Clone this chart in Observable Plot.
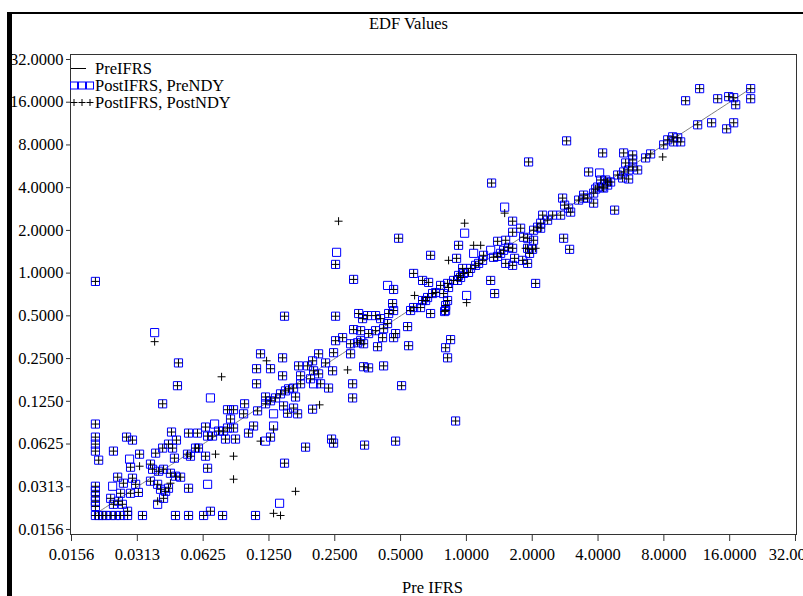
<!DOCTYPE html>
<html><head><meta charset="utf-8">
<script src="https://cdn.jsdelivr.net/npm/d3@7"></script>
<script src="https://cdn.jsdelivr.net/npm/@observablehq/plot@0.6"></script>
<style>
html,body{margin:0;padding:0;background:#fff;}
#wrap{position:relative;width:803px;height:596px;overflow:hidden;font-family:"Liberation Serif","DejaVu Serif","Times New Roman",serif;background:#fff;}
#chart{position:absolute;left:0;top:0;}
#legend{position:absolute;left:70px;top:60px;font-size:16.5px;color:#000;line-height:17px;}
#legend .row{display:flex;align-items:center;height:17px;white-space:nowrap;}
#legend svg{width:25px;height:17px;flex:none;}
</style></head><body>
<div id="wrap"><div id="chart"></div><div id="legend"></div></div>
<script>
// Tick values (log2 axes)
const tickValues = [0.015625,0.03125,0.0625,0.125,0.25,0.5,1,2,4,8,16,32];
const seriesNames = ["PreIFRS","PostIFRS, PreNDY","PostIFRS, PostNDY"];

// Pre IFRS EDF (x)
const preIFRS = [
.0408,.0967,.1206,.0201,.0201,.0201,.0201,.0208,.0279,.0297,
.0243,.0320,.0448,.0472,.0536,.0589,.0705,.0641,.0379,.0408,
.0434,.0453,.0462,.0530,.0547,.0577,.0595,.0641,.0655,.0690,
.0735,.0775,.0808,.0861,.0791,.0879,.1008,.1063,.0957,.1109,
.0834,.1144,.1206,.0861,.0861,.0712,.0655,.0288,.0291,.0320,
.0359,.0367,.0391,.0412,.0443,.0467,.0493,.0254,.0270,.0297,
.0241,.0307,.0316,.0291,.0262,.0236,.0256,.0243,.0267,.0359,
.0387,.0399,.0421,.0434,.0443,.0412,.0387,.0282,.0536,.0655,
.0201,.0201,.0201,.0201,.0201,.0201,.0208,.0217,.0224,.0236,
.0248,.0262,.0282,.0330,.0467,.0536,.0628,.0767,.1085,.0675,
.1312,.1271,.1838,.2469,.3422,.4744,.1473,.1654,.1398,.1312,
.1412,.8925,.0201,.0375,.0482,.0477,.0675,.0759,.1144,.1219,
.1097,.1097,.1206,.0808,.0861,
.2521,.3048,.4359,.4646,.5735,.6303,.6717,.5795,.7620,.8202,
.8736,.9208,.7230,.7864,.8202,.8033,.6858,.6506,.6172,.5735,
.5556,.4596,.4646,.4408,.4050,.3842,.3531,.3214,.3351,.4359,
.4181,.3842,.3570,.5382,.4646,.4744,.4136,.5441,.3923,.3282,
.3282,.3048,.3387,.3180,.2953,.2521,.2521,.2715,.2953,.2469,
.2862,.3387,.3570,.4181,.3017,.3017,.5053,.8467,.8033,.8202,
.1473,.1443,.1271,.1443,.1708,.1979,.2108,.2269,.2443,.2000,
.2108,.1937,.1744,.1878,.2342,.2000,.2153,.1744,.1620,.1537,
.1488,.1654,.1412,.1340,.1271,.1458,.1620,.1690,.1521,.1979,
.2130,.1312,.2417,.2602,.2548,.4897,
1.925,1.304,4.199,3.622,4.067,4.112,4.426,4.567,4.917,3.901,
4.199,3.819,3.436,3.261,3.585,3.819,2.755,2.813,2.934,2.998,
2.352,2.186,2.186,2.029,2.117,2.479,2.698,2.232,4.764,1.496,
.9815,1.627,1.627,1.770,1.827,1.905,2.029,2.008,1.905,1.866,
2.073,1.945,2.784,2.965,1.079,1.162,.9208,1.389,1.512,1.627,
1.560,1.479,1.434,1.389,1.332,1.291,1.198,1.186,1.137,1.102,
1.045,1.023,.9706,.9606,1.512,1.627,1.661,1.808,1.905,.9017,
.8288,.6858,.9406,.9113,.8288,.7003,.6644,.6303,.8033,.7948,
1.002,1.291,1.346,2.073,
11.66,10.06,14.10,15.83,16.69,17.05,19.96,19.96,11.42,13.23,
15.50,16.69,8.778,9.253,9.550,8.871,8.328,7.983,7.901,6.960,
6.603,5.238,5.760,5.760,5.349,6.071,5.760,5.521,5.238,5.183,
5.521,4.335,4.426,4.243,3.983,3.436,2.873
];

// Post IFRS, Pre NDY EDF (blue squares)
const postPreNDY = [
.120,.120,.120,.0864,.0699,.0624,.0557,.0481,.0699,.0666,
.0557,.0530,.0759,.0666,.0746,.0746,.0864,.0823,.0539,.0585,
.0624,.0585,.0497,.0530,.0513,.0585,.0585,.0513,.0711,.0711,
.0771,.0771,.0810,.0810,.0677,.0677,.0746,.0837,.102,.107,
.0938,null,.0655,null,null,null,.0422,.0489,.0429,null,
.0451,.0415,.0402,.0415,.0389,.0371,.0365,.0365,.0331,.0359,
.0315,.0325,.0285,.0281,.0281,.0259,.0247,.0235,.0235,.0342,
.0325,.0300,.0290,.0305,null,.0259,.0235,.0210,.0305,.0325,
.0315,.0290,.0268,.0247,.0227,.0196,.0196,.0196,.0196,.0196,
.0196,.0196,.0196,.0196,.0196,.0196,.0196,.0196,.0196,.0210,
.0837,.0699,.0594,.0634,.0614,.0655,.0458,null,.0239,null,
null,.0908,.874,.381,.233,.161,.132,null,.270,null,
.212,.166,.134,.109,.109,
1.152,.903,.819,.767,.995,.888,.860,null,.819,.846,
.888,.963,.730,.718,.641,.545,.519,.641,.572,.572,
.545,.610,.545,.519,.478,.502,.502,.519,.478,.441,
.406,.393,.375,.420,.351,.375,.351,.308,.303,.334,
.393,.400,.318,.323,.318,.497,.334,.351,.270,.275,
null,.219,.215,.222,.166,.132,.161,.340,.298,.253,
.497,.253,.212,.189,.222,.241,.270,.233,.205,.205,
.195,.180,.189,.222,.155,.166,.166,.166,.155,.153,
.148,.134,.141,.132,.126,.116,.112,.102,.103,.110,
null,.102,.0677,null,1.401,1.761,
6.072,4.312,7.028,5.160,5.076,4.528,4.384,4.384,4.912,3.910,
4.039,3.664,3.546,3.270,3.378,3.113,3.378,3.013,2.870,2.690,
2.360,2.248,2.072,2.006,2.106,2.561,2.561,2.561,2.778,2.916,
1.910,2.322,1.941,2.072,1.789,1.761,1.704,1.471,1.496,null,
null,1.378,1.761,1.471,1.378,null,1.570,1.676,1.704,1.496,
1.520,1.448,1.378,1.312,1.292,1.448,1.335,1.230,1.171,1.134,
1.079,1.011,.995,1.079,1.171,1.134,1.271,1.230,1.171,1.271,
null,1.335,.932,.888,.792,.718,.673,.641,.591,.536,
.696,.888,.718,.846,
19.94,16.39,16.93,17.51,17.22,15.36,19.94,16.93,11.09,11.46,
10.39,11.46,9.127,8.980,8.407,8.407,8.690,8.006,null,6.916,
6.480,7.028,6.803,6.272,5.972,5.331,5.596,5.331,5.160,4.680,
4.604,4.528,4.173,3.975,4.039,3.378,8.547
];

// Post IFRS, Post NDY EDF (black plus)
const postPostNDY = [
.120,.120,.120,.0864,.0699,.0624,.0557,.0481,.0699,.0666,
.0557,.0530,.0759,.0666,.0746,.0746,null,.0823,.0539,.0585,
.0624,.0585,.0497,.0530,.0513,.0585,.0585,.0513,.0711,.0711,
.0771,.0771,.0810,.0810,.0677,.0677,.0746,.0837,.102,.107,
.0938,.0655,null,.0513,.0353,.0530,.0422,null,.0429,.0436,
.0451,.0415,.0402,.0415,.0389,.0371,.0365,.0365,.0331,.0359,
null,.0325,.0285,.0281,.0281,.0259,.0247,.0235,.0235,.0342,
.0325,.0300,.0290,.0305,.0331,.0259,.0247,.0210,.0305,null,
.0315,.0290,.0268,.0247,.0227,.0196,.0196,.0196,.0196,.0196,
.0196,.0196,.0196,.0196,.0196,.0196,.0196,.0196,.0196,.0210,
.0797,.0699,.0594,.0634,.0614,.0655,.0458,.0290,null,.0203,
.0196,.0908,.874,.329,.233,.161,null,.186,.270,.241,
.212,.166,.134,.109,.109,
1.152,.903,null,.767,.995,.888,.860,.696,.819,.846,
.888,.963,.730,.718,.641,.545,.519,.641,.572,.572,
.545,.610,.545,.519,.478,.502,.502,.519,.478,.441,
.406,.393,.375,.420,.351,.375,.351,.308,.303,.334,
.393,.400,.318,.323,.318,.497,.334,.351,.270,.275,
.208,.219,.215,.222,.166,.132,.161,.340,.298,.253,
.497,.253,.212,.189,.222,.241,.270,.233,.205,.205,
.195,.180,.189,.222,.155,null,.166,.166,.155,.153,
.148,.134,.141,.132,.126,.116,.112,.102,.103,.110,
.118,null,.0677,2.322,null,1.761,
6.072,4.312,7.028,5.160,null,4.528,4.384,4.384,4.912,3.910,
4.039,3.664,3.546,3.270,3.378,3.113,3.378,3.013,2.870,2.690,
2.360,2.248,2.072,2.006,2.106,2.561,2.561,2.561,2.778,2.646,
2.248,2.322,1.941,2.072,1.789,1.761,1.704,1.471,1.496,1.496,
1.496,1.378,1.761,1.471,1.570,1.570,1.570,1.676,1.704,1.496,
1.520,1.448,1.378,1.312,1.292,null,1.335,1.230,1.171,1.134,
1.079,1.011,.995,1.079,1.171,1.134,1.271,1.230,1.171,1.271,
1.230,1.335,.932,.888,.792,.718,.673,.641,.591,.536,
.620,.888,.718,.846,
19.94,16.39,16.93,17.51,17.22,15.36,19.94,16.93,11.09,11.46,
10.39,11.46,9.127,8.980,8.407,8.407,8.690,8.006,6.585,6.916,
6.480,7.028,6.803,6.272,5.972,5.331,5.596,5.331,5.160,4.680,
4.604,4.528,4.173,3.975,4.039,3.378,8.547
];

const fmt = d3.format(".4f");
const idx = d3.range(preIFRS.length);
const sqIdx = idx.filter(i => postPreNDY[i] != null);
const plIdx = idx.filter(i => postPostNDY[i] != null);
const serif = '"Liberation Serif", "DejaVu Serif", "Times New Roman", serif';

const chart = Plot.plot({
  width: 803, height: 596,
  marginLeft: 70, marginRight: 7, marginTop: 54, marginBottom: 62,
  style: {fontFamily: serif, fontSize: "16.5px", background: "transparent", color: "#000", overflow: "visible"},
  x: {type: "log", base: 2, domain: [0.01546, 32.34]},
  y: {type: "log", base: 2, domain: [0.0144, 34.7]},
  marks: [
    Plot.axisX(tickValues, {tickFormat: fmt, tickSize: 7, tickPadding: 7, label: null, stroke: "#333", fontFamily: serif}),
    Plot.axisY(tickValues, {tickFormat: fmt, tickSize: 4, tickPadding: 3, label: null, stroke: "#333", fontFamily: serif}),
    Plot.frame({stroke: "#333", strokeWidth: 1}),
    Plot.line(d3.sort(preIFRS), {x: d => d, y: d => d, stroke: "#808080", strokeWidth: 1}),
    Plot.dot(sqIdx, {x: i => preIFRS[i], y: i => postPreNDY[i], symbol: "square", r: 4.6, stroke: "#0000ff", strokeWidth: 1, fill: "none"}),
    Plot.dot(plIdx, {x: i => preIFRS[i], y: i => postPostNDY[i], symbol: "plus", r: 2.7, stroke: "#000", strokeWidth: 1}),
    Plot.text(["EDF Values"], {text: d => d, frameAnchor: "top", lineAnchor: "middle", dx: -25, dy: -31, fontFamily: serif}),
    Plot.text(["Pre IFRS"], {text: d => d, frameAnchor: "bottom", lineAnchor: "middle", dx: -1, dy: 53, fontFamily: serif})
  ]
});
// Page border decorations (black top rule and thick left bar) drawn into the same SVG
const svg = d3.select(chart);
svg.append("rect").attr("x", 7).attr("y", 12).attr("width", 796).attr("height", 2).attr("fill", "#000");
svg.append("rect").attr("x", 7).attr("y", 12).attr("width", 5).attr("height", 584).attr("fill", "#000");
document.getElementById("chart").appendChild(chart);

// Legend
const legend = document.getElementById("legend");
const sym = [
  '<line x1="1" x2="16" y1="8.5" y2="8.5" stroke="#000" stroke-width="1"/>',
  [0,8,16].map(o => `<rect x="${o+0.5}" y="5" width="7" height="7" fill="none" stroke="#0000ff" stroke-width="1"/>`).join(""),
  [4,12,20].map(c => `<path d="M${c-3.5},8.5H${c+3.5}M${c},5V12" stroke="#000" stroke-width="1"/>`).join("")
];
seriesNames.forEach((name, k) => {
  const row = document.createElement("div");
  row.className = "row";
  row.innerHTML = `<svg viewBox="0 0 25 17">${sym[k]}</svg><span>${name}</span>`;
  legend.appendChild(row);
});
</script></body></html>
